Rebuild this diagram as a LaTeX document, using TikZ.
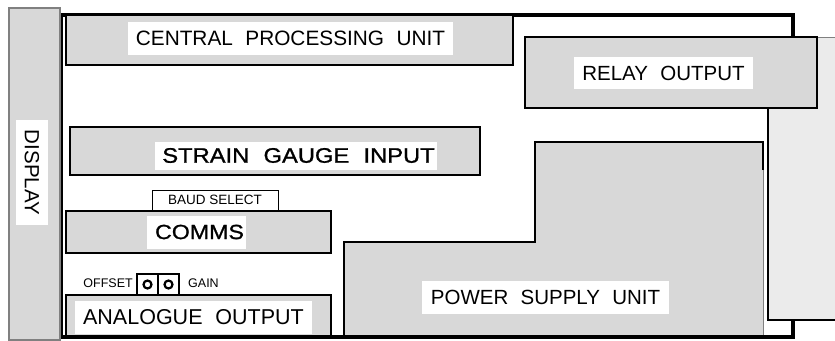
\documentclass[tikz,border=0pt]{standalone}
\usepackage{fontspec}
\setmainfont{Liberation Sans}
\newfontfamily\heavyfont[FakeBold=1]{Liberation Sans}
\newcommand{\wsp}{\hspace{0.6em}}
\begin{document}
\begin{tikzpicture}[x=1pt,y=-1pt,
  unitbox/.style={draw=black,line width=2.8pt,fill=boxgray},
  lbl/.style={fill=white,inner sep=0pt,font=\fontsize{20.5}{20.5}\selectfont},
  heavytxt/.style={inner sep=0pt,font=\heavyfont\fontsize{21}{21}\selectfont,xscale=1.13},
  small/.style={inner sep=0pt,font=\fontsize{12.5}{12.5}\selectfont}]
\definecolor{boxgray}{HTML}{D8D8D8}
\definecolor{panelgray}{HTML}{EBEBEB}
\definecolor{edgegray}{HTML}{808080}
\useasboundingbox (0,0) rectangle (835,340);
% outer frame
\draw[line width=3.2pt] (61,15) rectangle (793,337);
% right side panel
\fill[panelgray] (768,37) rectangle (835,320);
\draw[edgegray,line width=0.8pt] (768,37) -- (835,37);
\draw[line width=2.8pt] (768,108) -- (768,320) -- (835,320);
% display
\node[draw=edgegray,line width=2pt,fill=boxgray,minimum width=51pt,minimum height=332pt,inner sep=0pt] (disp) at (34,174) {};
\node[lbl,minimum width=32pt,minimum height=105pt] (displbl) at (32,172.5) {};
\node[font=\fontsize{20.5}{20.5}\selectfont,rotate=-90,inner sep=0pt] (disptxt) at (displbl.center) {DISPLAY};
% CPU
\node[unitbox,minimum width=447pt,minimum height=50pt,inner sep=0pt] (cpu) at (289.5,40) {};
\node[lbl,minimum width=325pt,minimum height=33pt,font=\fontsize{20.8}{20.8}\selectfont] (cpulbl) at (290.5,38.5) {CENTRAL\wsp PROCESSING\wsp UNIT};
% relay
\node[unitbox,minimum width=292pt,minimum height=71pt,inner sep=0pt] (relay) at (671,72.5) {};
\node[lbl,minimum width=179pt,minimum height=32pt] (relaylbl) at (663.5,73) {RELAY\wsp OUTPUT};
% strain gauge
\node[unitbox,minimum width=410pt,minimum height=48pt,inner sep=0pt] (sg) at (275,151) {};
\node[fill=white,inner sep=0pt,minimum width=282pt,minimum height=28pt] (sglbl) at (296,156) {};
\node[heavytxt] (sgtxt) at (298.5,155.5) {STRAIN\wsp GAUGE\wsp INPUT};
% baud select
\node[draw=black,line width=0.8pt,fill=white,minimum width=126pt,minimum height=20pt,inner sep=0pt,font=\fontsize{13.5}{13.5}\selectfont] (baud) at (215,200) {BAUD SELECT};
% comms
\node[unitbox,minimum width=265pt,minimum height=42pt,inner sep=0pt] (comms) at (198.5,232) {};
\node[fill=white,inner sep=0pt,minimum width=99pt,minimum height=33pt] (commslbl) at (196.5,232.5) {};
\node[heavytxt,font=\heavyfont\fontsize{20.5}{20.5}\selectfont] (commstxt) at (199.5,232) {COMMS};
% offset / gain
\node[draw=black,line width=1.6pt,minimum width=21pt,minimum height=21pt,inner sep=0pt] (pot1) at (147.5,284.5) {};
\node[draw=black,line width=1.6pt,minimum width=21pt,minimum height=21pt,inner sep=0pt] (pot2) at (168.5,284.5) {};
\draw[line width=2.2pt] (pot1.center) circle (4pt);
\draw[line width=2.2pt] (pot2.center) circle (4pt);
\node[small,anchor=east] (offset) at (133,283) {OFFSET};
\node[small,anchor=west] (gain) at (188,283) {GAIN};
% analogue output
\node[unitbox,minimum width=265pt,minimum height=42pt,inner sep=0pt] (ana) at (198.5,316) {};
\node[lbl,minimum width=237pt,minimum height=33pt,font=\fontsize{21.5}{21.5}\selectfont] (analbl) at (193.5,317.5) {ANALOGUE\wsp OUTPUT};
% power supply unit
\fill[boxgray] (535,142) -- (763,142) -- (763,337) -- (344,337) -- (344,242) -- (535,242) -- cycle;
\draw[line width=2.8pt] (763,170) -- (763,142) -- (535,142) -- (535,242) -- (344,242) -- (344,337);
\draw[edgegray,line width=0.8pt] (763,170) -- (763,337);
\node[lbl,minimum width=247pt,minimum height=33pt] (psulbl) at (545.5,297.5) {POWER\wsp SUPPLY\wsp UNIT};
% bottom frame line on top
\draw[line width=3.2pt] (61,337) -- (793,337) -- (793,320);
\end{tikzpicture}
\end{document}
